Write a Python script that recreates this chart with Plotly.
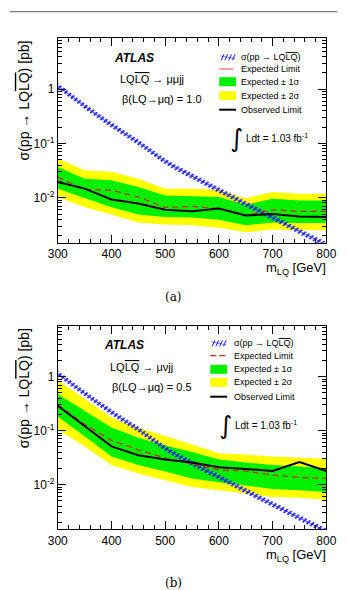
import plotly.graph_objects as go

W, H = 347, 590

# ---------------- data ----------------
mass = [300, 350, 400, 450, 500, 550, 600, 650, 700, 750, 800]
theory = [1.15, 0.49, 0.22, 0.105, 0.047, 0.025, 0.0138, 0.0076, 0.0043, 0.0024, 0.00135]

# (a) beta = 1.0, mu mu j j
a_obs = [0.0195, 0.0147, 0.0093, 0.0078, 0.0060, 0.0056, 0.0063, 0.0047, 0.0050, 0.0045, 0.0044]
a_exp = [0.024, 0.0142, 0.0137, 0.0103, 0.0066, 0.0069, 0.0063, 0.0047, 0.0060, 0.0056, 0.0056]
a_1up = [0.037, 0.0224, 0.021, 0.0158, 0.011, 0.0107, 0.0103, 0.0074, 0.0096, 0.0089, 0.0089]
a_1dn = [0.0147, 0.010, 0.0067, 0.0049, 0.0044, 0.0043, 0.0039, 0.0031, 0.0035, 0.0034, 0.0034]
a_2up = [0.053, 0.032, 0.030, 0.0224, 0.0147, 0.0147, 0.0138, 0.0098, 0.0127, 0.0118, 0.0118]
a_2dn = [0.0103, 0.0067, 0.0049, 0.0035, 0.0032, 0.0031, 0.0028, 0.0023, 0.0026, 0.0025, 0.0025]

# (b) beta = 0.5, mu nu j j
b_obs = [0.29, 0.123, 0.051, 0.035, 0.029, 0.0257, 0.021, 0.0195, 0.0178, 0.026, 0.0178]
b_exp = [0.30, 0.131, 0.066, 0.044, 0.031, 0.024, 0.0187, 0.0178, 0.015, 0.0135, 0.013]
b_1up = [0.48, 0.234, 0.114, 0.074, 0.053, 0.040, 0.029, 0.0257, 0.023, 0.0215, 0.020]
b_1dn = [0.18, 0.079, 0.033, 0.023, 0.0175, 0.013, 0.011, 0.0097, 0.0083, 0.0078, 0.0073]
b_2up = [0.86, 0.39, 0.176, 0.114, 0.08, 0.055, 0.038, 0.036, 0.033, 0.031, 0.030]
b_2dn = [0.105, 0.051, 0.023, 0.016, 0.012, 0.009, 0.0078, 0.0068, 0.0059, 0.0057, 0.0052]

x_ticks = [300, 400, 500, 600, 700, 800]
y_ticks = [0.01, 0.1, 1]
y_ticktext = ["10<sup>-2</sup>", "10<sup>-1</sup>", "1"]

FONT = "Liberation Sans, Arial, sans-serif"
GREEN = "#00f000"
YELLOW = "#ffff00"
RED = "#d02818"
BLUE = "#1818ff"


def px(x):
    return x / W


def py(y):
    return 1 - y / H


fig = go.Figure()


def add_panel(xa, ya, obs, exp, up1, dn1, up2, dn2):
    kw = dict(xaxis=xa, yaxis=ya, showlegend=False, hoverinfo="skip")
    fig.add_trace(go.Scatter(x=mass, y=up2, mode="lines", line=dict(width=0, color=YELLOW), **kw))
    fig.add_trace(go.Scatter(x=mass, y=dn2, mode="lines", line=dict(width=0, color=YELLOW),
                             fill="tonexty", fillcolor=YELLOW, **kw))
    fig.add_trace(go.Scatter(x=mass, y=up1, mode="lines", line=dict(width=0, color=GREEN), **kw))
    fig.add_trace(go.Scatter(x=mass, y=dn1, mode="lines", line=dict(width=0, color=GREEN),
                             fill="tonexty", fillcolor=GREEN, **kw))
    th_up = [v * 1.13 for v in theory]
    th_dn = [v / 1.13 for v in theory]
    fig.add_trace(go.Scatter(x=mass, y=th_up, mode="lines", line=dict(width=0, shape="spline"), **kw))
    fig.add_trace(go.Scatter(x=mass, y=th_dn, mode="lines", line=dict(width=0, shape="spline"),
                             fill="tonexty", fillcolor="rgba(0,0,0,0)",
                             fillpattern=dict(shape="/", fgcolor=BLUE, bgcolor="rgba(0,0,0,0)",
                                              fgopacity=1, size=4, solidity=0.45), **kw))
    fig.add_trace(go.Scatter(x=mass, y=theory, mode="lines",
                             line=dict(width=0.8, color=BLUE, shape="spline"), **kw))
    fig.add_trace(go.Scatter(x=mass, y=exp, mode="lines",
                             line=dict(width=1.2, color=RED, dash="6px,4px"), **kw))
    fig.add_trace(go.Scatter(x=mass, y=obs, mode="lines", line=dict(width=2, color="black"), **kw))


add_panel("x", "y", a_obs, a_exp, a_1up, a_1dn, a_2up, a_2dn)
add_panel("x2", "y2", b_obs, b_exp, b_1up, b_1dn, b_2up, b_2dn)

minor_y = [m * 10 ** e for e in (-3, -2, -1, 0) for m in range(2, 10)]
xdom = [px(50.7), px(335.7)]


def xaxis(anchor):
    return dict(domain=xdom, anchor=anchor, range=[300, 800], tickvals=x_ticks,
                ticks="inside", ticklen=8, tickwidth=1, tickcolor="black",
                showline=True, linecolor="black", linewidth=1, mirror="allticks",
                showgrid=False, zeroline=False,
                tickfont=dict(family=FONT, size=12, color="black"),
                minor=dict(tickvals=list(range(300, 801, 20)), ticks="inside", ticklen=4,
                           tickcolor="black", showgrid=False))


def yaxis(anchor, top, bottom):
    return dict(domain=[py(bottom), py(top)], anchor=anchor, type="log", range=[-2.83, 0.94],
                tickvals=y_ticks, ticktext=y_ticktext,
                ticks="inside", ticklen=8, tickwidth=1, tickcolor="black",
                showline=True, linecolor="black", linewidth=1, mirror="allticks",
                showgrid=False, zeroline=False,
                tickfont=dict(family=FONT, size=12, color="black"),
                minor=dict(tickvals=minor_y, ticks="inside", ticklen=4,
                           tickcolor="black", showgrid=False))


ann = []
shapes = []

OL = "<span style='text-decoration:overline'>LQ</span>"


def panel_deco(top, bottom, dx, dy, label, decay, beta, dashed_leg, leg_x0, leg_rows, tx, integ):
    ann.append(dict(text="σ(pp → LQ" + OL + ") [pb]", x=px(15), y=py(top), xref="paper", yref="paper",
                    xanchor="center", yanchor="top", textangle=-90, showarrow=False,
                    font=dict(family=FONT, size=14, color="black")))
    ann.append(dict(text="m<sub>LQ</sub> [GeV]", x=px(337), y=py(bottom + 26), xref="paper", yref="paper",
                    xanchor="right", yanchor="middle", showarrow=False,
                    font=dict(family=FONT, size=13, color="black")))
    ann.append(dict(text="<b><i>ATLAS</i></b>", x=px(dx[0]), y=py(dy[0]), xref="paper", yref="paper",
                    xanchor="center", yanchor="middle", showarrow=False,
                    font=dict(family=FONT, size=12, color="black")))
    ann.append(dict(text="LQ" + OL + " → " + decay, x=px(dx[1]), y=py(dy[1]), xref="paper", yref="paper",
                    xanchor="center", yanchor="middle", showarrow=False,
                    font=dict(family=FONT, size=11, color="black")))
    ann.append(dict(text="β(LQ→μq) = " + beta, x=px(dx[2]), y=py(dy[2]), xref="paper", yref="paper",
                    xanchor="center", yanchor="middle", showarrow=False,
                    font=dict(family=FONT, size=11, color="black")))
    texts = ["σ(pp → LQ" + OL + ")", "Expected Limit", "Expected ± 1σ", "Expected ± 2σ", "Observed Limit"]
    for t, ry in zip(texts, leg_rows):
        ann.append(dict(text=t, x=px(tx), y=py(ry), xref="paper", yref="paper",
                        xanchor="left", yanchor="middle", showarrow=False,
                        font=dict(family=FONT, size=9, color="black")))
    x0, x1 = leg_x0, leg_x0 + 18
    for k in range(4):
        sx = x0 + 2 + k * 4
        shapes.append(dict(type="line", xref="paper", yref="paper", x0=px(sx), x1=px(sx + 3),
                           y0=py(leg_rows[0] + 3), y1=py(leg_rows[0] - 3),
                           line=dict(color=BLUE, width=1)))
    shapes.append(dict(type="line", xref="paper", yref="paper", x0=px(x0 + 1), x1=px(x1 - 1),
                       y0=py(leg_rows[0] - 1.5), y1=py(leg_rows[0] + 1.5),
                       line=dict(color=BLUE, width=0.6)))
    if dashed_leg:
        shapes.append(dict(type="line", xref="paper", yref="paper", x0=px(x0), x1=px(x1),
                           y0=py(leg_rows[1]), y1=py(leg_rows[1]),
                           line=dict(color=RED, width=1.2, dash="6px,3px")))
    else:
        shapes.append(dict(type="line", xref="paper", yref="paper", x0=px(x0), x1=px(x1 - 3),
                           y0=py(leg_rows[1]), y1=py(leg_rows[1]),
                           line=dict(color="#f08080", width=1.5)))
    for ry, col in ((leg_rows[2], GREEN), (leg_rows[3], YELLOW)):
        shapes.append(dict(type="rect", xref="paper", yref="paper", x0=px(x0), x1=px(x1),
                           y0=py(ry - 4.5), y1=py(ry + 4.5), fillcolor=col, line=dict(width=0)))
    shapes.append(dict(type="line", xref="paper", yref="paper", x0=px(x0), x1=px(x1),
                       y0=py(leg_rows[4]), y1=py(leg_rows[4]), line=dict(color="black", width=2)))
    ann.append(dict(text="∫", x=px(integ[0]), y=py(integ[1]), xref="paper", yref="paper",
                    xanchor="center", yanchor="middle", showarrow=False,
                    font=dict(family="DejaVu Sans", size=25, color="black")))
    ann.append(dict(text="Ldt = 1.03 fb<sup>-1</sup>", x=px(integ[0] + 8), y=py(integ[1]), xref="paper",
                    yref="paper", xanchor="left", yanchor="middle", showarrow=False,
                    font=dict(family=FONT, size=10, color="black")))
    ann.append(dict(text=label, x=px(173), y=py(bottom + 54), xref="paper", yref="paper",
                    xanchor="center", yanchor="middle", showarrow=False,
                    font=dict(family="DejaVu Serif", size=12, color="black")))


panel_deco(38.3, 242.7, (132, 151, 161), (57.7, 79.3, 99), "(a)", "μμjj", "1.0", False, 222,
           (57.3, 69, 81.7, 95.7, 109.7), 243.5, (240, 138))
panel_deco(326, 529.3, (121, 140, 150.5), (345, 366.7, 386.7), "(b)", "μνjj", "0.5", True, 212.5,
           (343.3, 355.7, 369.3, 382.3, 396.7), 236, (228.5, 425))

shapes.append(dict(type="line", xref="paper", yref="paper", x0=0, x1=1, y0=py(11.7), y1=py(11.7),
                   line=dict(color="#808080", width=1.2)))

fig.update_layout(
    width=W, height=H, margin=dict(l=0, r=0, t=0, b=0),
    paper_bgcolor="white", plot_bgcolor="white",
    xaxis=xaxis("y"), yaxis=yaxis("x", 38.3, 242.7),
    xaxis2=xaxis("y2"), yaxis2=yaxis("x2", 326, 529.3),
    annotations=ann, shapes=shapes, showlegend=False,
)

fig.write_html("out.html")
